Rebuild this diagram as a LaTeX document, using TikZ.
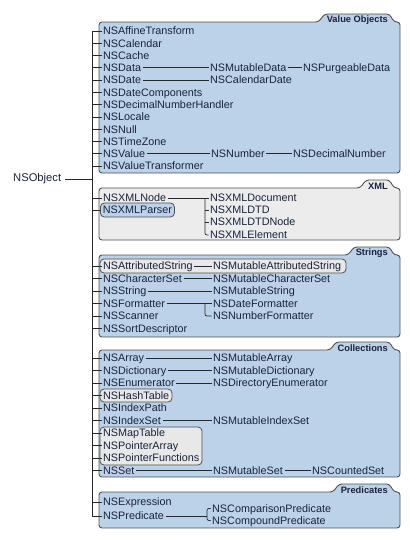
\documentclass[tikz,border=0pt]{standalone}
\usepackage{fontspec}
\setmainfont{Liberation Sans}
\definecolor{bluef}{RGB}{188,210,232}
\definecolor{grayf}{RGB}{236,236,236}
\definecolor{hlg}{RGB}{232,232,232}
\definecolor{bordc}{RGB}{80,80,80}
\definecolor{txtc}{RGB}{25,35,60}
\definecolor{linec}{RGB}{40,40,40}
\begin{document}
\begin{tikzpicture}[x=1pt,y=-1pt,
  item/.style={anchor=west, inner xsep=1.5pt, inner ysep=1pt, text height=9.3pt, text depth=1.7pt,
    font=\fontsize{10.8}{12}\selectfont, text=txtc},
  conn/.style={draw=linec, line width=0.7pt},
  panelb/.style={draw=bordc, line width=0.9pt, fill=bluef, rounded corners=3pt},
  panelg/.style={panelb, fill=grayf},
  tablbl/.style={anchor=east, inner sep=0pt, font=\bfseries\fontsize{9.3}{10}\selectfont, text=txtc},
  hl/.style={draw=bordc, line width=0.8pt, fill=hlg, rounded corners=4pt},
  hlitem/.style={item, anchor=west, inner xsep=2.5pt, inner ysep=1.5pt, draw=bordc, line width=0.8pt, fill=bluef, rounded corners=4pt},
]
\useasboundingbox (0,0) rectangle (410,539);

% panels
\path[panelb] (99,173) -- (99,22) -- (318.5,22) -- (324.5,14) -- (389.5,14) -- (394,22) -- (400,22) -- (400,173) -- cycle;
\path[panelg] (99,240) -- (99,188) -- (360,188) -- (366,180) -- (389.5,180) -- (394,188) -- (400,188) -- (400,240) -- cycle;
\path[panelb] (99,337) -- (99,255) -- (348,255) -- (354,247) -- (389.5,247) -- (394,255) -- (400,255) -- (400,337) -- cycle;
\path[panelb] (99,477) -- (99,350) -- (330,350) -- (336,342) -- (389.5,342) -- (394,350) -- (400,350) -- (400,477) -- cycle;
\path[panelb] (99,528) -- (99,492) -- (333,492) -- (339,484) -- (389.5,484) -- (394,492) -- (400,492) -- (400,528) -- cycle;

\node[tablbl] (tvo) at (388,20.5) {Value Objects};
\node[tablbl] (txml) at (388,186.5) {XML};
\node[tablbl] (tstr) at (388,253.5) {Strings};
\node[tablbl] (tcol) at (388,348.5) {Collections};
\node[tablbl] (tpre) at (388,490.5) {Predicates};

% highlight boxes
\path[hl] (100,259) rectangle (346,273);
\path[hl] (100,389) rectangle (172,402);
\path[hl] (100,427) rectangle (202,465);

% root
\node[anchor=west, inner xsep=4pt, font=\fontsize{11.2}{13}\selectfont, text=txtc] (obj) at (9,179) {NSObject};
\coordinate (trunk) at (92,0);

% Value Objects
\node[item] (aff) at (101.5,31) {NSAffineTransform};
\node[item] (cal) at (101.5,43.3) {NSCalendar};
\node[item] (cache) at (101.5,55.5) {NSCache};
\node[item] (data) at (101.5,67.8) {NSData};
\node[item] (date) at (101.5,80.1) {NSDate};
\node[item] (dcomp) at (101.5,92.4) {NSDateComponents};
\node[item] (dnh) at (101.5,104.6) {NSDecimalNumberHandler};
\node[item] (loc) at (101.5,116.9) {NSLocale};
\node[item] (null) at (101.5,129.2) {NSNull};
\node[item] (tz) at (101.5,141.4) {NSTimeZone};
\node[item] (val) at (101.5,153.7) {NSValue};
\node[item] (vt) at (101.5,166) {NSValueTransformer};
\node[item] (mdata) at (208.5,67.8) {NSMutableData};
\node[item] (cdate) at (208.5,80.1) {NSCalendarDate};
\node[item] (num) at (209.5,153.7) {NSNumber};
\node[item] (pdata) at (301.5,67.8) {NSPurgeableData};
\node[item] (dnum) at (291.5,153.7) {NSDecimalNumber};

% XML
\node[item] (xnode) at (101.5,198) {NSXMLNode};
\node[hlitem] (xparser) at (100,210) {NSXMLParser};
\node[item] (xdoc) at (208.5,198) {NSXMLDocument};
\node[item] (xdtd) at (208.5,210) {NSXMLDTD};
\node[item] (xdtdn) at (208.5,222) {NSXMLDTDNode};
\node[item] (xel) at (208.5,235) {NSXMLElement};
\coordinate (xb) at (205,0);

% Strings
\node[item] (astr) at (101.5,266) {NSAttributedString};
\node[item] (cset) at (101.5,278.5) {NSCharacterSet};
\node[item] (str) at (101.5,291) {NSString};
\node[item] (fmt) at (101.5,303.5) {NSFormatter};
\node[item] (scan) at (101.5,316) {NSScanner};
\node[item] (sort) at (101.5,328.5) {NSSortDescriptor};
\node[item] (mastr) at (211.5,266) {NSMutableAttributedString};
\node[item] (mcset) at (211.5,278.5) {NSMutableCharacterSet};
\node[item] (mstr) at (211.5,291) {NSMutableString};
\node[item] (dfmt) at (211.5,303.5) {NSDateFormatter};
\node[item] (nfmt) at (211.5,316) {NSNumberFormatter};
\coordinate (sb) at (205,0);

% Collections
\node[item] (arr) at (101.5,358) {NSArray};
\node[item] (dict) at (101.5,370.5) {NSDictionary};
\node[item] (enum) at (101.5,383) {NSEnumerator};
\node[item] (hash) at (101.5,395.5) {NSHashTable};
\node[item] (ipath) at (101.5,408) {NSIndexPath};
\node[item] (iset) at (101.5,420.5) {NSIndexSet};
\node[item] (map) at (101.5,433) {NSMapTable};
\node[item] (parr) at (101.5,445.5) {NSPointerArray};
\node[item] (pfun) at (101.5,458) {NSPointerFunctions};
\node[item] (set) at (101.5,470.5) {NSSet};
\node[item] (marr) at (211.5,358) {NSMutableArray};
\node[item] (mdict) at (211.5,370.5) {NSMutableDictionary};
\node[item] (denum) at (211.5,383) {NSDirectoryEnumerator};
\node[item] (miset) at (211.5,420.5) {NSMutableIndexSet};
\node[item] (mset) at (211.5,470.5) {NSMutableSet};
\node[item] (cset2) at (310.5,470.5) {NSCountedSet};

% Predicates
\node[item] (expr) at (101.5,502) {NSExpression};
\node[item] (pred) at (101.5,516) {NSPredicate};
\node[item] (cmp) at (210.5,508.5) {NSComparisonPredicate};
\node[item] (cpd) at (210.5,520.5) {NSCompoundPredicate};
\coordinate (pb) at (207,0);

% trunk and ticks
\draw[conn] (obj.east) -- (obj.east -| trunk);
\draw[conn] (aff.west -| trunk) -- (pred.west -| trunk);
\foreach \n in {aff,cal,cache,data,date,dcomp,dnh,loc,null,tz,val,vt,
  xnode,xparser,astr,cset,str,fmt,scan,sort,
  arr,dict,enum,hash,ipath,iset,map,parr,pfun,set,expr,pred}
  \draw[conn] (\n.west -| trunk) -- (\n.west);

% value objects connectors
\draw[conn] (data.east) -- (mdata.west);
\draw[conn] (mdata.east) -- (pdata.west);
\draw[conn] (date.east) -- (cdate.west);
\draw[conn] (val.east) -- (num.west);
\draw[conn] (num.east) -- (dnum.west);

% XML connectors
\draw[conn] (xnode.east) -- (xdoc.west);
\draw[conn, rounded corners=2pt] (xdoc.west -| xb) |- (xel.west);
\draw[conn] (xdtd.west -| xb) -- (xdtd.west);
\draw[conn] (xdtdn.west -| xb) -- (xdtdn.west);

% Strings connectors
\draw[conn] (astr.east) -- (mastr.west);
\draw[conn] (cset.east) -- (mcset.west);
\draw[conn] (str.east) -- (mstr.west);
\draw[conn] (fmt.east) -- (dfmt.west);
\draw[conn, rounded corners=2pt] (dfmt.west -| sb) |- (nfmt.west);

% Collections connectors
\draw[conn] (arr.east) -- (marr.west);
\draw[conn] (dict.east) -- (mdict.west);
\draw[conn] (enum.east) -- (denum.west);
\draw[conn] (iset.east) -- (miset.west);
\draw[conn] (set.east) -- (mset.west);
\draw[conn] (mset.east) -- (cset2.west);

% Predicates connectors
\draw[conn] (pred.east) -- (pred.east -| pb);
\draw[conn, rounded corners=2pt] (cmp.west) -| (pb |- cpd.west) -- (cpd.west);
\end{tikzpicture}
\end{document}
